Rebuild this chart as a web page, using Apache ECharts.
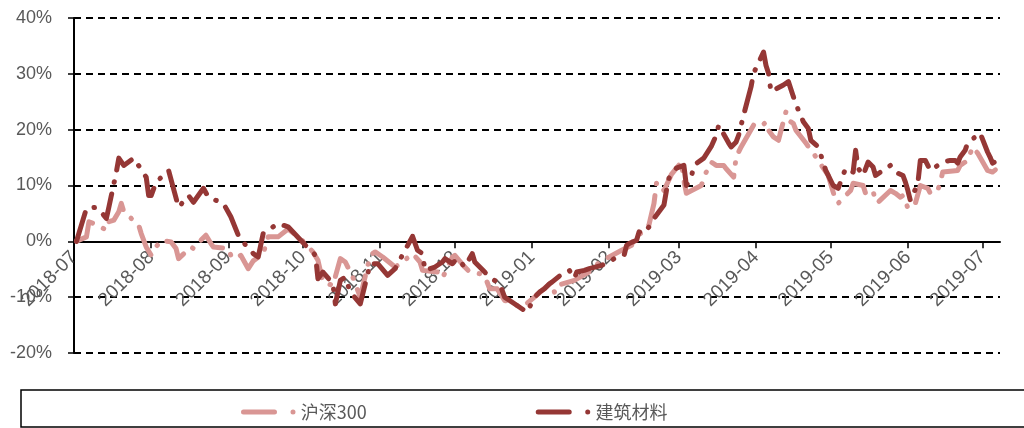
<!DOCTYPE html>
<html>
<head>
<meta charset="utf-8">
<style>
  html, body { margin: 0; padding: 0; background: #fff; }
  #chart { width: 1024px; height: 428px; }
</style>
<script src="https://cdn.jsdelivr.net/npm/echarts@6.0.0/dist/echarts.min.js"></script>
</head>
<body>
<div id="chart"></div>
<script>
// 系列名称
const seriesNames = ['沪深300', '建筑材料']

// 沪深300 (日期 / 累计涨跌幅 %)
const hs300Dates = [
  '2018-07-02', '2018-07-06', '2018-07-07', '2018-07-10', '2018-07-14', '2018-07-15', '2018-07-17', '2018-07-19',
  '2018-07-20', '2018-07-21', '2018-07-27', '2018-07-28', '2018-07-30', '2018-08-01', '2018-08-03', '2018-08-05',
  '2018-08-09', '2018-08-11', '2018-08-12', '2018-08-17', '2018-08-18', '2018-08-21', '2018-08-23', '2018-08-25',
  '2018-08-26', '2018-09-01', '2018-09-02', '2018-09-04', '2018-09-06', '2018-09-09', '2018-09-11', '2018-09-15',
  '2018-09-17', '2018-09-21', '2018-09-25', '2018-09-30', '2018-10-05', '2018-10-07', '2018-10-09', '2018-10-13',
  '2018-10-16', '2018-10-18', '2018-10-21', '2018-10-24', '2018-10-28', '2018-10-30', '2018-11-02', '2018-11-07',
  '2018-11-10', '2018-11-14', '2018-11-17', '2018-11-18', '2018-11-24', '2018-11-26', '2018-11-30', '2018-12-01',
  '2018-12-05', '2018-12-07', '2018-12-11', '2018-12-13', '2018-12-15', '2018-12-18', '2018-12-21', '2018-12-24',
  '2018-12-26', '2018-12-28', '2019-01-02', '2019-01-05', '2019-01-09', '2019-01-10', '2019-01-11', '2019-01-18',
  '2019-01-25', '2019-01-28', '2019-02-01', '2019-02-06', '2019-02-10', '2019-02-11', '2019-02-14', '2019-02-17',
  '2019-02-19', '2019-02-20', '2019-02-21', '2019-02-23', '2019-02-26', '2019-03-02', '2019-03-03', '2019-03-04',
  '2019-03-10', '2019-03-12', '2019-03-14', '2019-03-16', '2019-03-19', '2019-03-20', '2019-03-23', '2019-03-24',
  '2019-03-26', '2019-03-31', '2019-04-03', '2019-04-05', '2019-04-06', '2019-04-08', '2019-04-10', '2019-04-13',
  '2019-04-14', '2019-04-16', '2019-04-17', '2019-04-21', '2019-04-24', '2019-04-30', '2019-05-03', '2019-05-04',
  '2019-05-07', '2019-05-09', '2019-05-10', '2019-05-14', '2019-05-15', '2019-05-18', '2019-05-19', '2019-05-20',
  '2019-05-25', '2019-05-27', '2019-05-29', '2019-05-30', '2019-05-31', '2019-06-01', '2019-06-04', '2019-06-06',
  '2019-06-09', '2019-06-10', '2019-06-13', '2019-06-14', '2019-06-15', '2019-06-21', '2019-06-22', '2019-06-25',
  '2019-06-27', '2019-06-29', '2019-07-03', '2019-07-05', '2019-07-07'
]
const hs300Values = [
  0.0, 0.8, 3.5, 3.0, 2.0, 3.5, 3.8, 5.3,
  6.8, 5.3, 2.9, 1.4, -1.0, -2.5, -1.0, 0.2,
  -0.1, -1.3, -3.1, -1.0, -1.3, 0.2, 1.1, -0.4,
  -1.0, -1.3, -2.5, -3.1, -2.5, -4.9, -3.5, -2.2,
  0.8, 0.8, 2.2, 0.5, -1.9, -3.4, -7.3, -7.9,
  -3.1, -3.7, -6.4, -10.0, -2.5, -1.9, -2.8, -4.6,
  -3.7, -2.2, -3.7, -5.2, -5.5, -6.6, -2.8, -2.5,
  -4.6, -5.5, -5.8, -6.2, -8.5, -8.5, -10.6, -10.9,
  -11.5, -11.8, -10.0, -8.8, -7.3, -9.1, -7.9, -7.0,
  -5.2, -3.7, -2.8, -1.6, -0.7, 0.8, 1.5, 3.0,
  6.8, 10.4, 10.6, 9.1, 12.0, 14.2, 10.9, 8.6,
  10.0, 12.4, 14.2, 13.6, 13.6, 13.0, 11.5, 15.1,
  16.9, 20.8, 20.5, 21.4, 19.9, 18.7, 18.1, 23.2,
  21.7, 21.1, 19.9, 17.6, 15.8, 11.8, 7.3, 6.8,
  8.2, 9.1, 10.4, 10.0, 8.6, 9.1, 7.0, 7.0,
  9.1, 8.6, 7.9, 8.2, 7.3, 5.9, 6.8, 10.0,
  9.5, 8.6, 9.1, 10.6, 12.4, 12.7, 13.6, 14.5,
  16.9, 15.8, 12.7, 12.4, 13.1
]

// 建筑材料 (日期 / 累计涨跌幅 %)
const jzclDates = [
  '2018-07-02', '2018-07-06', '2018-07-10', '2018-07-12', '2018-07-14', '2018-07-15', '2018-07-16', '2018-07-18',
  '2018-07-19', '2018-07-21', '2018-07-25', '2018-07-30', '2018-07-31', '2018-08-01', '2018-08-03', '2018-08-08',
  '2018-08-12', '2018-08-16', '2018-08-18', '2018-08-22', '2018-08-24', '2018-08-30', '2018-09-02', '2018-09-05',
  '2018-09-09', '2018-09-10', '2018-09-11', '2018-09-13', '2018-09-15', '2018-09-16', '2018-09-21', '2018-09-25',
  '2018-10-02', '2018-10-06', '2018-10-07', '2018-10-09', '2018-10-13', '2018-10-14', '2018-10-16', '2018-10-18',
  '2018-10-20', '2018-10-24', '2018-10-28', '2018-10-31', '2018-11-04', '2018-11-07', '2018-11-11', '2018-11-14',
  '2018-11-16', '2018-11-18', '2018-11-19', '2018-11-23', '2018-11-26', '2018-11-27', '2018-11-30', '2018-12-02',
  '2018-12-05', '2018-12-08', '2018-12-09', '2018-12-13', '2018-12-15', '2018-12-17', '2018-12-19', '2018-12-21',
  '2018-12-26', '2018-12-30', '2019-01-02', '2019-01-04', '2019-01-06', '2019-01-08', '2019-01-09', '2019-01-14',
  '2019-01-16', '2019-01-18', '2019-01-19', '2019-01-22', '2019-01-24', '2019-01-29', '2019-02-01', '2019-02-03',
  '2019-02-07', '2019-02-08', '2019-02-09', '2019-02-12', '2019-02-13', '2019-02-15', '2019-02-17', '2019-02-19',
  '2019-02-23', '2019-02-24', '2019-02-25', '2019-02-28', '2019-03-03', '2019-03-04', '2019-03-06', '2019-03-07',
  '2019-03-11', '2019-03-14', '2019-03-16', '2019-03-17', '2019-03-21', '2019-03-22', '2019-03-24', '2019-03-25',
  '2019-03-27', '2019-03-30', '2019-03-31', '2019-04-04', '2019-04-05', '2019-04-06', '2019-04-07', '2019-04-12',
  '2019-04-14', '2019-04-16', '2019-04-18', '2019-04-20', '2019-04-22', '2019-04-23', '2019-04-26', '2019-04-29',
  '2019-05-02', '2019-05-04', '2019-05-07', '2019-05-10', '2019-05-11', '2019-05-12', '2019-05-14', '2019-05-16',
  '2019-05-18', '2019-05-19', '2019-05-25', '2019-05-27', '2019-05-30', '2019-05-31', '2019-06-01', '2019-06-02',
  '2019-06-05', '2019-06-06', '2019-06-08', '2019-06-09', '2019-06-10', '2019-06-15', '2019-06-18', '2019-06-20',
  '2019-06-21', '2019-06-22', '2019-06-24', '2019-06-25', '2019-06-30', '2019-07-03', '2019-07-04', '2019-07-05',
  '2019-07-07'
]
const jzclValues = [
  0.0, 5.9, 6.1, 5.2, 4.1, 6.1, 8.2, 12.4,
  14.9, 13.6, 14.9, 11.5, 8.2, 8.2, 10.6, 12.7,
  6.1, 8.2, 7.0, 9.5, 7.9, 6.8, 4.4, 1.1,
  -1.3, -1.6, -2.2, -2.8, 1.4, 1.7, 3.2, 2.6,
  -0.7, -2.5, -6.7, -5.5, -7.6, -11.2, -7.0, -6.4,
  -9.1, -11.2, -4.0, -4.0, -6.1, -4.9, -1.6, 0.9,
  -1.6, -2.2, -5.2, -4.6, -3.7, -3.1, -4.0, -3.1,
  -4.6, -2.2, -3.7, -5.5, -6.4, -7.0, -7.6, -10.0,
  -11.5, -12.7, -10.0, -9.1, -8.5, -7.6, -7.3, -5.5,
  -5.2, -6.6, -5.5, -5.2, -4.9, -4.3, -3.7, -3.1,
  -2.5, -0.7, -0.4, 0.2, 1.7, 1.4, 2.6, 4.1,
  6.5, 9.1, 11.3, 13.1, 13.6, 10.0, 11.5, 13.6,
  14.9, 17.0, 19.0, 20.8, 17.6, 16.9, 17.8, 19.0,
  22.6, 27.7, 30.1, 33.9, 31.5, 30.1, 26.8, 28.0,
  28.6, 25.9, 23.5, 21.4, 20.2, 18.1, 16.9, 12.7,
  10.0, 9.5, 13.1, 12.4, 16.3, 13.1, 11.8, 14.2,
  13.3, 11.8, 13.6, 12.4, 11.8, 10.6, 9.1, 7.3,
  10.4, 14.5, 14.5, 13.6, 12.7, 14.2, 14.5, 14.5,
  14.0, 15.1, 16.3, 17.6, 19.4, 16.0, 15.1, 14.0,
  14.5
]

// 坐标轴范围
const xMin = '2018-07-01'
const xMax = '2019-07-08'
const yTicks = [-20, -10, 0, 10, 20, 30, 40]

const DAY = 24 * 3600 * 1000
const labelColor = '#595959'
const colors = ['#D99694', '#953735']
const legendIcon = 'path://M2.5,0 L33.5,0 A2.5,2.5 0 0 1 33.5,5 L2.5,5 A2.5,2.5 0 0 1 2.5,0 Z M49.5,2.5 A2.5,2.5 0 1 0 54.5,2.5 A2.5,2.5 0 1 0 49.5,2.5 Z'

// 网格尺寸, 用于把横轴放到 0% 的位置
const gridTop = 18
const gridBottom = 75
const plotHeight = 428 - gridTop - gridBottom
const zeroOffset = -plotHeight * (0 - yTicks[0]) / (yTicks[yTicks.length - 1] - yTicks[0])

const zip = (dates, values) => dates.map((d, i) => [d, values[i]])

const makeSeries = (name, data, color) => ({
  name,
  type: 'line',
  data,
  showSymbol: false,
  symbol: 'none',
  smooth: false,
  itemStyle: { color },
  lineStyle: {
    color,
    width: 5,
    type: [30, 12, 0.5, 12],
    cap: 'round',
    join: 'round'
  }
})

const chart = echarts.init(document.getElementById('chart'))

chart.setOption({
  animation: false,
  backgroundColor: '#fff',
  grid: { left: 74, right: 24, top: gridTop, bottom: gridBottom },
  xAxis: {
    type: 'time',
    min: xMin,
    max: xMax,
    minInterval: 28 * DAY,
    maxInterval: 31 * DAY,
    offset: zeroOffset,
    axisLine: { onZero: false, lineStyle: { color: '#000', width: 2 } },
    axisTick: { show: true, length: 7, lineStyle: { color: '#000', width: 1.5 } },
    axisLabel: {
      rotate: 45,
      formatter: '{yyyy}-{MM}',
      color: labelColor,
      fontSize: 19,
      fontFamily: 'Liberation Sans',
      margin: 13,
      showMinLabel: true
    },
    splitLine: { show: false }
  },
  yAxis: {
    type: 'value',
    min: yTicks[0],
    max: yTicks[yTicks.length - 1],
    interval: 10,
    axisLine: { show: true, lineStyle: { color: '#000', width: 2 } },
    axisTick: { show: true, length: 6, lineStyle: { color: '#000', width: 1.5 } },
    axisLabel: {
      formatter: '{value}%',
      color: labelColor,
      fontSize: 18,
      fontFamily: 'Liberation Sans',
      margin: 22
    },
    splitLine: { show: true, lineStyle: { color: '#000', width: 2, type: [7, 5] } }
  },
  legend: {
    left: 236,
    top: 398,
    itemGap: 169,
    itemWidth: 55,
    itemHeight: 5,
    icon: legendIcon,
    textStyle: { fontSize: 18, color: labelColor, fontFamily: 'Noto Sans CJK SC' },
    data: seriesNames
  },
  graphic: [
    {
      type: 'rect',
      silent: true,
      shape: { x: 21, y: 390, width: 1010, height: 37 },
      style: { fill: 'none', stroke: '#000', lineWidth: 1.5 }
    }
  ],
  series: [
    makeSeries(seriesNames[0], zip(hs300Dates, hs300Values), colors[0]),
    makeSeries(seriesNames[1], zip(jzclDates, jzclValues), colors[1])
  ]
})
</script>
</body>
</html>
